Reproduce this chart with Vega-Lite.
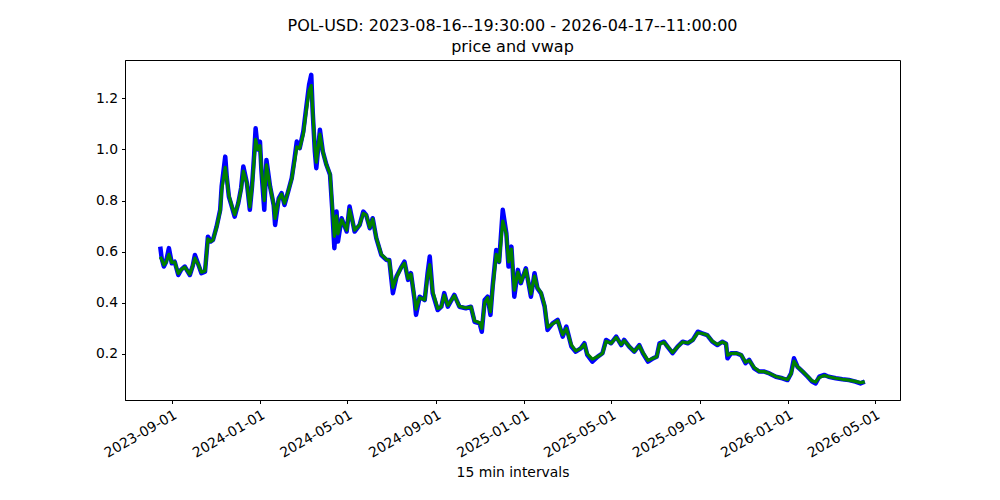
{
  "$schema": "https://vega.github.io/schema/vega-lite/v6.json",
  "autosize": {"type": "none"},
  "padding": {"left": 125, "top": 60, "right": 100, "bottom": 100},
  "width": 775,
  "height": 340,
  "background": "white",
  "config": {
    "font": "DejaVu Sans",
    "view": {"stroke": "black", "strokeWidth": 1},
    "axis": {"grid": false, "domainColor": "black", "tickColor": "black", "tickSize": 3.5, "labelColor": "black", "labelFont": "DejaVu Sans", "labelFontSize": 13.9, "labelPadding": 4, "titleFont": "DejaVu Sans", "titleFontWeight": "normal", "titleFontSize": 13.9, "titleColor": "black"}
  },
  "title": {"text": ["POL-USD: 2023-08-16--19:30:00 - 2026-04-17--11:00:00", "price and vwap"], "font": "DejaVu Sans", "fontSize": 16, "fontWeight": "normal", "color": "black", "anchor": "middle", "lineHeight": 21, "offset": 5},
  "data": {"values": [
    {"date": "2023-08-16", "price": 0.620, "vwap": 0.580},
    {"date": "2023-08-18", "price": 0.575, "vwap": 0.570},
    {"date": "2023-08-21", "price": 0.542, "vwap": 0.548},
    {"date": "2023-08-24", "price": 0.560, "vwap": 0.558},
    {"date": "2023-08-28", "price": 0.614, "vwap": 0.590},
    {"date": "2023-09-01", "price": 0.555, "vwap": 0.558},
    {"date": "2023-09-05", "price": 0.561, "vwap": 0.560},
    {"date": "2023-09-10", "price": 0.509, "vwap": 0.515},
    {"date": "2023-09-14", "price": 0.530, "vwap": 0.530},
    {"date": "2023-09-19", "price": 0.542, "vwap": 0.540},
    {"date": "2023-09-26", "price": 0.509, "vwap": 0.512},
    {"date": "2023-09-30", "price": 0.545, "vwap": 0.545},
    {"date": "2023-10-03", "price": 0.587, "vwap": 0.575},
    {"date": "2023-10-08", "price": 0.548, "vwap": 0.548},
    {"date": "2023-10-12", "price": 0.516, "vwap": 0.520},
    {"date": "2023-10-17", "price": 0.522, "vwap": 0.525},
    {"date": "2023-10-21", "price": 0.659, "vwap": 0.650},
    {"date": "2023-10-25", "price": 0.640, "vwap": 0.640},
    {"date": "2023-10-28", "price": 0.646, "vwap": 0.646},
    {"date": "2023-11-02", "price": 0.698, "vwap": 0.695},
    {"date": "2023-11-07", "price": 0.764, "vwap": 0.760},
    {"date": "2023-11-09", "price": 0.855, "vwap": 0.840},
    {"date": "2023-11-14", "price": 0.972, "vwap": 0.930},
    {"date": "2023-11-16", "price": 0.894, "vwap": 0.890},
    {"date": "2023-11-19", "price": 0.816, "vwap": 0.820},
    {"date": "2023-11-23", "price": 0.777, "vwap": 0.780},
    {"date": "2023-11-27", "price": 0.737, "vwap": 0.745},
    {"date": "2023-12-02", "price": 0.790, "vwap": 0.790},
    {"date": "2023-12-06", "price": 0.850, "vwap": 0.845},
    {"date": "2023-12-09", "price": 0.933, "vwap": 0.915},
    {"date": "2023-12-14", "price": 0.868, "vwap": 0.868},
    {"date": "2023-12-18", "price": 0.764, "vwap": 0.775},
    {"date": "2023-12-21", "price": 0.855, "vwap": 0.850},
    {"date": "2023-12-24", "price": 0.980, "vwap": 0.960},
    {"date": "2023-12-26", "price": 1.083, "vwap": 1.040},
    {"date": "2023-12-29", "price": 1.000, "vwap": 1.000},
    {"date": "2024-01-01", "price": 1.031, "vwap": 1.015},
    {"date": "2024-01-03", "price": 0.920, "vwap": 0.925},
    {"date": "2024-01-07", "price": 0.764, "vwap": 0.800},
    {"date": "2024-01-10", "price": 0.959, "vwap": 0.940},
    {"date": "2024-01-15", "price": 0.855, "vwap": 0.855},
    {"date": "2024-01-20", "price": 0.783, "vwap": 0.785},
    {"date": "2024-01-22", "price": 0.705, "vwap": 0.730},
    {"date": "2024-01-27", "price": 0.809, "vwap": 0.805},
    {"date": "2024-01-31", "price": 0.829, "vwap": 0.825},
    {"date": "2024-02-04", "price": 0.783, "vwap": 0.790},
    {"date": "2024-02-09", "price": 0.835, "vwap": 0.835},
    {"date": "2024-02-14", "price": 0.888, "vwap": 0.885},
    {"date": "2024-02-18", "price": 0.966, "vwap": 0.955},
    {"date": "2024-02-21", "price": 1.031, "vwap": 1.010},
    {"date": "2024-02-25", "price": 1.005, "vwap": 1.005},
    {"date": "2024-03-01", "price": 1.070, "vwap": 1.060},
    {"date": "2024-03-05", "price": 1.162, "vwap": 1.150},
    {"date": "2024-03-09", "price": 1.253, "vwap": 1.230},
    {"date": "2024-03-12", "price": 1.292, "vwap": 1.250},
    {"date": "2024-03-14", "price": 1.148, "vwap": 1.150},
    {"date": "2024-03-17", "price": 0.992, "vwap": 1.010},
    {"date": "2024-03-19", "price": 0.927, "vwap": 0.950},
    {"date": "2024-03-24", "price": 1.077, "vwap": 1.060},
    {"date": "2024-03-28", "price": 0.992, "vwap": 0.992},
    {"date": "2024-04-02", "price": 0.940, "vwap": 0.940},
    {"date": "2024-04-07", "price": 0.901, "vwap": 0.905},
    {"date": "2024-04-10", "price": 0.770, "vwap": 0.780},
    {"date": "2024-04-13", "price": 0.614, "vwap": 0.660},
    {"date": "2024-04-16", "price": 0.757, "vwap": 0.740},
    {"date": "2024-04-18", "price": 0.640, "vwap": 0.670},
    {"date": "2024-04-23", "price": 0.731, "vwap": 0.725},
    {"date": "2024-04-30", "price": 0.679, "vwap": 0.685},
    {"date": "2024-05-04", "price": 0.777, "vwap": 0.765},
    {"date": "2024-05-11", "price": 0.679, "vwap": 0.685},
    {"date": "2024-05-18", "price": 0.705, "vwap": 0.705},
    {"date": "2024-05-23", "price": 0.757, "vwap": 0.750},
    {"date": "2024-05-27", "price": 0.744, "vwap": 0.744},
    {"date": "2024-06-01", "price": 0.692, "vwap": 0.695},
    {"date": "2024-06-05", "price": 0.731, "vwap": 0.728},
    {"date": "2024-06-10", "price": 0.653, "vwap": 0.655},
    {"date": "2024-06-17", "price": 0.587, "vwap": 0.590},
    {"date": "2024-06-24", "price": 0.568, "vwap": 0.570},
    {"date": "2024-06-28", "price": 0.568, "vwap": 0.566},
    {"date": "2024-07-03", "price": 0.438, "vwap": 0.460},
    {"date": "2024-07-08", "price": 0.503, "vwap": 0.500},
    {"date": "2024-07-15", "price": 0.542, "vwap": 0.540},
    {"date": "2024-07-19", "price": 0.561, "vwap": 0.555},
    {"date": "2024-07-24", "price": 0.490, "vwap": 0.495},
    {"date": "2024-07-28", "price": 0.516, "vwap": 0.512},
    {"date": "2024-08-02", "price": 0.411, "vwap": 0.420},
    {"date": "2024-08-04", "price": 0.353, "vwap": 0.375},
    {"date": "2024-08-09", "price": 0.424, "vwap": 0.420},
    {"date": "2024-08-16", "price": 0.411, "vwap": 0.412},
    {"date": "2024-08-20", "price": 0.516, "vwap": 0.505},
    {"date": "2024-08-23", "price": 0.581, "vwap": 0.550},
    {"date": "2024-08-27", "price": 0.438, "vwap": 0.445},
    {"date": "2024-09-03", "price": 0.372, "vwap": 0.378},
    {"date": "2024-09-08", "price": 0.385, "vwap": 0.385},
    {"date": "2024-09-12", "price": 0.438, "vwap": 0.430},
    {"date": "2024-09-17", "price": 0.385, "vwap": 0.390},
    {"date": "2024-09-26", "price": 0.431, "vwap": 0.428},
    {"date": "2024-10-03", "price": 0.385, "vwap": 0.387},
    {"date": "2024-10-12", "price": 0.379, "vwap": 0.380},
    {"date": "2024-10-19", "price": 0.385, "vwap": 0.384},
    {"date": "2024-10-24", "price": 0.326, "vwap": 0.330},
    {"date": "2024-10-31", "price": 0.320, "vwap": 0.322},
    {"date": "2024-11-03", "price": 0.287, "vwap": 0.300},
    {"date": "2024-11-07", "price": 0.411, "vwap": 0.400},
    {"date": "2024-11-11", "price": 0.424, "vwap": 0.420},
    {"date": "2024-11-15", "price": 0.353, "vwap": 0.365},
    {"date": "2024-11-18", "price": 0.463, "vwap": 0.455},
    {"date": "2024-11-23", "price": 0.607, "vwap": 0.590},
    {"date": "2024-11-27", "price": 0.560, "vwap": 0.560},
    {"date": "2024-12-02", "price": 0.764, "vwap": 0.720},
    {"date": "2024-12-07", "price": 0.672, "vwap": 0.670},
    {"date": "2024-12-10", "price": 0.542, "vwap": 0.560},
    {"date": "2024-12-14", "price": 0.620, "vwap": 0.610},
    {"date": "2024-12-18", "price": 0.424, "vwap": 0.450},
    {"date": "2024-12-23", "price": 0.529, "vwap": 0.520},
    {"date": "2024-12-27", "price": 0.477, "vwap": 0.480},
    {"date": "2025-01-03", "price": 0.535, "vwap": 0.530},
    {"date": "2025-01-10", "price": 0.424, "vwap": 0.435},
    {"date": "2025-01-15", "price": 0.516, "vwap": 0.505},
    {"date": "2025-01-19", "price": 0.457, "vwap": 0.460},
    {"date": "2025-01-24", "price": 0.437, "vwap": 0.440},
    {"date": "2025-01-29", "price": 0.385, "vwap": 0.390},
    {"date": "2025-02-02", "price": 0.294, "vwap": 0.305},
    {"date": "2025-02-09", "price": 0.320, "vwap": 0.318},
    {"date": "2025-02-16", "price": 0.333, "vwap": 0.330},
    {"date": "2025-02-23", "price": 0.268, "vwap": 0.275},
    {"date": "2025-02-28", "price": 0.307, "vwap": 0.300},
    {"date": "2025-03-07", "price": 0.229, "vwap": 0.235},
    {"date": "2025-03-13", "price": 0.209, "vwap": 0.212},
    {"date": "2025-03-20", "price": 0.222, "vwap": 0.222},
    {"date": "2025-03-25", "price": 0.242, "vwap": 0.238},
    {"date": "2025-03-29", "price": 0.196, "vwap": 0.200},
    {"date": "2025-04-05", "price": 0.170, "vwap": 0.180},
    {"date": "2025-04-12", "price": 0.189, "vwap": 0.189},
    {"date": "2025-04-19", "price": 0.203, "vwap": 0.202},
    {"date": "2025-04-24", "price": 0.255, "vwap": 0.250},
    {"date": "2025-05-01", "price": 0.242, "vwap": 0.242},
    {"date": "2025-05-08", "price": 0.268, "vwap": 0.265},
    {"date": "2025-05-15", "price": 0.235, "vwap": 0.237},
    {"date": "2025-05-19", "price": 0.255, "vwap": 0.252},
    {"date": "2025-05-26", "price": 0.229, "vwap": 0.230},
    {"date": "2025-06-02", "price": 0.209, "vwap": 0.210},
    {"date": "2025-06-09", "price": 0.235, "vwap": 0.232},
    {"date": "2025-06-14", "price": 0.203, "vwap": 0.205},
    {"date": "2025-06-21", "price": 0.170, "vwap": 0.175},
    {"date": "2025-06-28", "price": 0.183, "vwap": 0.183},
    {"date": "2025-07-03", "price": 0.189, "vwap": 0.189},
    {"date": "2025-07-07", "price": 0.242, "vwap": 0.238},
    {"date": "2025-07-13", "price": 0.248, "vwap": 0.246},
    {"date": "2025-07-18", "price": 0.229, "vwap": 0.230},
    {"date": "2025-07-25", "price": 0.203, "vwap": 0.206},
    {"date": "2025-08-01", "price": 0.229, "vwap": 0.228},
    {"date": "2025-08-08", "price": 0.248, "vwap": 0.247},
    {"date": "2025-08-15", "price": 0.242, "vwap": 0.243},
    {"date": "2025-08-22", "price": 0.255, "vwap": 0.254},
    {"date": "2025-08-29", "price": 0.287, "vwap": 0.283},
    {"date": "2025-09-04", "price": 0.281, "vwap": 0.280},
    {"date": "2025-09-11", "price": 0.274, "vwap": 0.274},
    {"date": "2025-09-18", "price": 0.248, "vwap": 0.250},
    {"date": "2025-09-25", "price": 0.235, "vwap": 0.237},
    {"date": "2025-10-02", "price": 0.248, "vwap": 0.247},
    {"date": "2025-10-07", "price": 0.240, "vwap": 0.240},
    {"date": "2025-10-09", "price": 0.183, "vwap": 0.195},
    {"date": "2025-10-14", "price": 0.203, "vwap": 0.202},
    {"date": "2025-10-21", "price": 0.203, "vwap": 0.203},
    {"date": "2025-10-28", "price": 0.196, "vwap": 0.197},
    {"date": "2025-11-03", "price": 0.164, "vwap": 0.168},
    {"date": "2025-11-08", "price": 0.177, "vwap": 0.175},
    {"date": "2025-11-15", "price": 0.144, "vwap": 0.147},
    {"date": "2025-11-22", "price": 0.131, "vwap": 0.132},
    {"date": "2025-11-29", "price": 0.131, "vwap": 0.131},
    {"date": "2025-12-06", "price": 0.124, "vwap": 0.124},
    {"date": "2025-12-15", "price": 0.111, "vwap": 0.112},
    {"date": "2025-12-24", "price": 0.105, "vwap": 0.105},
    {"date": "2025-12-31", "price": 0.098, "vwap": 0.100},
    {"date": "2026-01-05", "price": 0.124, "vwap": 0.122},
    {"date": "2026-01-09", "price": 0.183, "vwap": 0.172},
    {"date": "2026-01-14", "price": 0.150, "vwap": 0.150},
    {"date": "2026-01-21", "price": 0.131, "vwap": 0.132},
    {"date": "2026-01-28", "price": 0.111, "vwap": 0.112},
    {"date": "2026-02-03", "price": 0.092, "vwap": 0.095},
    {"date": "2026-02-08", "price": 0.085, "vwap": 0.090},
    {"date": "2026-02-13", "price": 0.111, "vwap": 0.108},
    {"date": "2026-02-20", "price": 0.118, "vwap": 0.116},
    {"date": "2026-02-26", "price": 0.111, "vwap": 0.111},
    {"date": "2026-03-08", "price": 0.105, "vwap": 0.105},
    {"date": "2026-03-17", "price": 0.101, "vwap": 0.101},
    {"date": "2026-03-26", "price": 0.098, "vwap": 0.098},
    {"date": "2026-04-04", "price": 0.092, "vwap": 0.093},
    {"date": "2026-04-11", "price": 0.085, "vwap": 0.088},
    {"date": "2026-04-17", "price": 0.092, "vwap": 0.091}
  ]},
  "encoding": {
    "x": {
      "field": "date", "type": "temporal",
      "scale": {"type": "utc", "domain": [{"year": 2023, "month": 6, "date": 28, "hours": 6, "utc": true}, {"year": 2026, "month": 6, "date": 4, "hours": 18, "utc": true}], "nice": false},
      "axis": {
        "title": "15 min intervals",
        "labelExpr": "utcFormat(datum.value, '%Y-%m-%d')",
        "values": [
          {"year": 2023, "month": 9, "date": 1, "utc": true},
          {"year": 2024, "month": 1, "date": 1, "utc": true},
          {"year": 2024, "month": 5, "date": 1, "utc": true},
          {"year": 2024, "month": 9, "date": 1, "utc": true},
          {"year": 2025, "month": 1, "date": 1, "utc": true},
          {"year": 2025, "month": 5, "date": 1, "utc": true},
          {"year": 2025, "month": 9, "date": 1, "utc": true},
          {"year": 2026, "month": 1, "date": 1, "utc": true},
          {"year": 2026, "month": 5, "date": 1, "utc": true}
        ],
        "labelAngle": -30, "labelAlign": "right", "labelBaseline": "top",
        "labelOverlap": false,
        "titleBaseline": "middle", "titleY": 72
      }
    },
    "y": {
      "type": "quantitative",
      "scale": {"domain": [0.02, 1.35], "nice": false, "zero": false},
      "axis": {"title": null, "values": [0.2, 0.4, 0.6, 0.8, 1.0, 1.2], "format": ".1f"}
    }
  },
  "layer": [
    {
      "mark": {"type": "line", "color": "#0000ff", "strokeWidth": 4.5, "strokeJoin": "round"},
      "encoding": {
        "y": {"field": "price", "type": "quantitative", "scale": {"domain": [0.02, 1.35], "nice": false, "zero": false}, "axis": {"title": null, "values": [0.2, 0.4, 0.6, 0.8, 1.0, 1.2], "format": ".1f"}}
      }
    },
    {
      "mark": {"type": "line", "color": "#008000", "strokeWidth": 3.2, "strokeJoin": "round"},
      "encoding": {
        "y": {"field": "vwap", "type": "quantitative", "scale": {"domain": [0.02, 1.35], "nice": false, "zero": false}, "axis": {"title": null, "values": [0.2, 0.4, 0.6, 0.8, 1.0, 1.2], "format": ".1f"}}
      }
    }
  ]
}
